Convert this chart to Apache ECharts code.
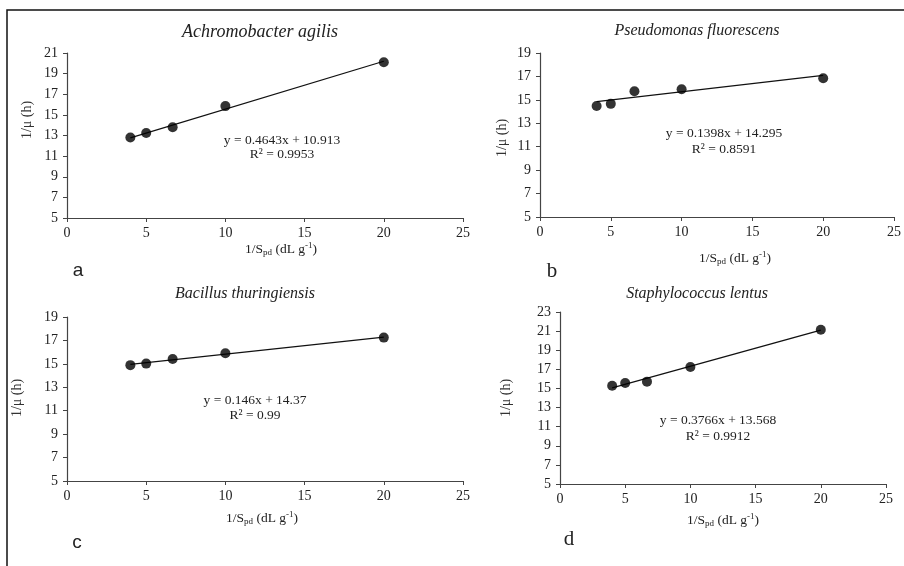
<!DOCTYPE html>
<html>
<head>
<meta charset="utf-8">
<script src="https://cdn.jsdelivr.net/npm/echarts@6/dist/echarts.min.js"></script>
<style>
  html, body { margin: 0; padding: 0; background: #fff; }
  #chart { width: 904px; height: 566px; }
</style>
</head>
<body>
<div id="chart"></div>
<script>
// x values shared by all four panels (1/Spd)
const xVals = [4, 5, 6.67, 10, 20];

// 1/mu values
const yA = [12.8, 13.24, 13.8, 15.85, 20.1];
const yB = [14.47, 14.66, 15.74, 15.91, 16.85];
const yC = [14.89, 15.02, 15.42, 15.91, 17.24];
const yD = [15.29, 15.57, 15.71, 17.25, 21.14];

// trendline end points
const trendA = [[4, 12.77], [20, 20.2]];
const trendB = [[4, 14.85], [20, 17.09]];
const trendC = [[4, 14.95], [20, 17.29]];
const trendD = [[4, 15.07], [20, 21.1]];

const titles = ["Achromobacter agilis", "Pseudomonas fluorescens", "Bacillus thuringiensis", "Staphylococcus lentus"];
const equations = ["y = 0.4643x + 10.913", "y = 0.1398x + 14.295", "y = 0.146x + 14.37", "y = 0.3766x + 13.568"];
const rSquared = ["R² = 0.9953", "R² = 0.8591", "R² = 0.99", "R² = 0.9912"];
const letters = ["a", "b", "c", "d"];
const yMax = [21, 19, 19, 23];

const serif = "'Liberation Serif', 'Times New Roman', serif";

// panel layout (pixels)
const grids = [
  { left: 67, top: 53, width: 396, height: 165 },
  { left: 540, top: 53, width: 354, height: 164 },
  { left: 67, top: 317, width: 396, height: 164 },
  { left: 560, top: 312, width: 326, height: 172 }
];
const titlePos = [[260, 32], [697, 31], [245, 294], [697, 294]];
const titleSize = [18, 16, 16, 16];
const eqPos = [[282, 140, 154], [724, 133, 149], [255, 400, 415], [718, 420, 436]];
const xNamePos = [[281, 249], [735, 258], [262, 518], [723, 520]];
const yNamePos = [[27, 120], [502, 138], [17, 398], [506, 398]];
const letterPos = [[78, 271, "sans"], [552, 271, "serif"], [77, 543, "sans"], [569, 539, "serif"]];

const ySeries = [yA, yB, yC, yD];
const trends = [trendA, trendB, trendC, trendD];

const axisLine = { lineStyle: { color: "#444", width: 1.2 } };
const axisTick = { inside: false, length: 4, lineStyle: { color: "#444" } };
const axisLabel = { fontFamily: serif, fontSize: 14, color: "#222" };

const xAxes = [], yAxes = [], series = [], graphic = [];

grids.forEach((g, i) => {
  xAxes.push({
    type: "value", gridIndex: i, min: 0, max: 25, interval: 5,
    axisLine, axisTick, splitLine: { show: false },
    axisLabel: { ...axisLabel, margin: 8 }
  });
  yAxes.push({
    type: "value", gridIndex: i, min: 5, max: yMax[i], interval: 2,
    axisLine: { show: true, ...axisLine }, axisTick: { show: true, ...axisTick },
    splitLine: { show: false },
    axisLabel: { ...axisLabel, margin: 9 }
  });
  series.push({
    type: "line", xAxisIndex: i, yAxisIndex: i,
    data: trends[i], symbol: "none",
    lineStyle: { color: "#111", width: 1.3 }, z: 2
  });
  series.push({
    type: "scatter", xAxisIndex: i, yAxisIndex: i,
    data: xVals.map((x, k) => [x, ySeries[i][k]]),
    symbol: "circle", symbolSize: 10,
    itemStyle: { color: "#000" }, z: 3
  });

  // title
  graphic.push({
    type: "text", x: titlePos[i][0], y: titlePos[i][1],
    style: { text: titles[i], align: "center", verticalAlign: "middle",
      font: "italic " + titleSize[i] + "px " + serif, fill: "#222" }
  });
  // equation and R²
  graphic.push({
    type: "text", x: eqPos[i][0], y: eqPos[i][1],
    style: { text: equations[i], align: "center", verticalAlign: "middle",
      font: "13.5px " + serif, fill: "#222" }
  });
  graphic.push({
    type: "text", x: eqPos[i][0], y: eqPos[i][2],
    style: { text: rSquared[i], align: "center", verticalAlign: "middle",
      font: "13.5px " + serif, fill: "#222" }
  });
  // x axis name with sub/superscript
  graphic.push({
    type: "text", x: xNamePos[i][0], y: xNamePos[i][1],
    style: {
      text: "1/S{sub|pd} (dL g{sup|-1})",
      align: "center", verticalAlign: "middle",
      font: "13.5px " + serif, fill: "#222",
      rich: {
        sub: { fontFamily: serif, fontSize: 9, fill: "#222", padding: [7, 0, 0, 0] },
        sup: { fontFamily: serif, fontSize: 9, fill: "#222", padding: [0, 0, 6, 0] }
      }
    }
  });
  // y axis name
  graphic.push({
    type: "text", x: yNamePos[i][0], y: yNamePos[i][1], rotation: Math.PI / 2,
    style: { text: "1/μ (h)", align: "center", verticalAlign: "middle",
      font: "14px " + serif, fill: "#333" }
  });
  // panel letter
  const isSans = letterPos[i][2] === "sans";
  graphic.push({
    type: "text", x: letterPos[i][0], y: letterPos[i][1],
    style: { text: letters[i], align: "center", verticalAlign: "middle",
      font: isSans ? "19px 'Liberation Sans', Arial, sans-serif" : "21px " + serif,
      fill: "#222" }
  });
});

// outer frame (top and left edges)
graphic.push({
  type: "polyline",
  shape: { points: [[7, 566], [7, 10], [904, 10]] },
  style: { stroke: "#111", lineWidth: 1.5, fill: null }
});

const chart = echarts.init(document.getElementById("chart"));
chart.setOption({
  animation: false,
  backgroundColor: "#fff",
  grid: grids,
  xAxis: xAxes,
  yAxis: yAxes,
  series,
  graphic
});
window.addEventListener("resize", chart.resize);
</script>
</body>
</html>
